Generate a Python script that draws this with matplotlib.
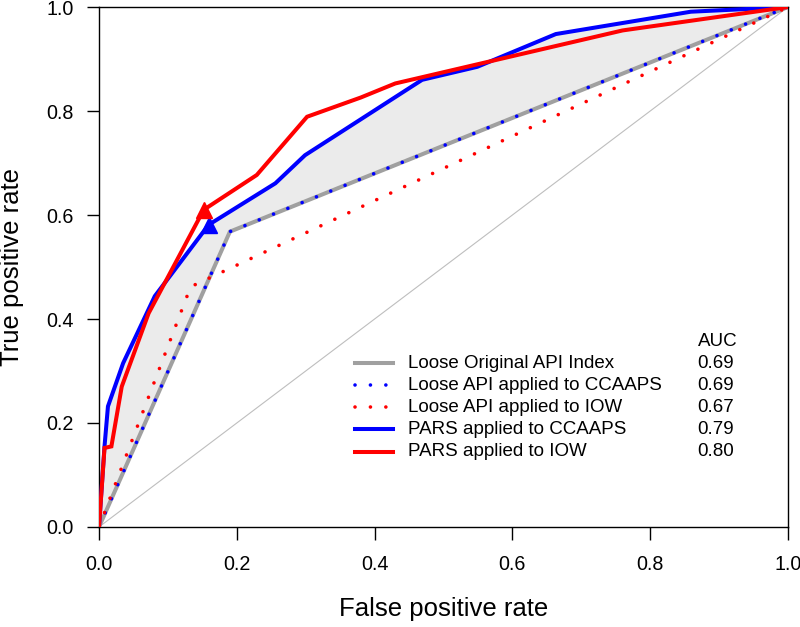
import numpy as np
import matplotlib.pyplot as plt

plt.rcParams['font.family'] = ['Liberation Sans', 'DejaVu Sans']

# ROC curve vertices (false positive rate, true positive rate)
api_fpr = [0.0, 0.19, 1.0]
api_tpr = [0.0, 0.568, 1.0]
ccaaps_api_fpr = [0.0, 0.19, 1.0]
ccaaps_api_tpr = [0.0, 0.568, 1.0]
iow_api_fpr = [0.0, 0.133, 1.0]
iow_api_tpr = [0.0, 0.462, 1.0]
ccaaps_pars_fpr = [0.0, 0.008, 0.013, 0.035, 0.081, 0.159, 0.256, 0.299,
                   0.469, 0.549, 0.663, 0.859, 1.0]
ccaaps_pars_tpr = [0.0, 0.155, 0.232, 0.315, 0.444, 0.581, 0.661, 0.715,
                   0.860, 0.885, 0.948, 0.991, 1.0]
iow_pars_fpr = [0.0, 0.008, 0.018, 0.033, 0.072, 0.152, 0.229, 0.302,
                0.38, 0.43, 0.76, 1.0]
iow_pars_tpr = [0.0, 0.152, 0.155, 0.27, 0.411, 0.61, 0.677, 0.789,
                0.826, 0.853, 0.955, 1.0]

# cutoff points marked with triangles
ccaaps_cut = (0.159, 0.581)
iow_cut = (0.152, 0.610)

labels = ['Loose Original API Index', 'Loose API applied to CCAAPS',
          'Loose API applied to IOW', 'PARS applied to CCAAPS', 'PARS applied to IOW']
aucs = ['0.69', '0.69', '0.67', '0.79', '0.80']
ticks = [0.0, 0.2, 0.4, 0.6, 0.8, 1.0]

dots = (0, (0.01, 4.26))
styles = [dict(color='#A0A0A0', lw=2.9, ls='-'),
          dict(color='#0000FF', lw=2.6, ls=dots, dash_capstyle='round'),
          dict(color='#FF0000', lw=2.6, ls=dots, dash_capstyle='round'),
          dict(color='#0000FF', lw=2.9, ls='-'),
          dict(color='#FF0000', lw=2.9, ls='-')]

fig = plt.figure(figsize=(8, 6.27), dpi=100)
ax = fig.add_axes([0.12375, 0.1595, 0.86125, 0.8293])

# shaded area between the original index and PARS on CCAAPS
grid = np.union1d(api_fpr, ccaaps_pars_fpr)
lower = np.interp(grid, api_fpr, api_tpr)
upper = np.interp(grid, ccaaps_pars_fpr, ccaaps_pars_tpr)
ax.fill_between(grid, lower, upper, color='#EBEBEB', lw=0, zorder=1)

ax.plot([0, 1], [0, 1], color='#BEBEBE', lw=0.8, zorder=2)

curves = [(api_fpr, api_tpr), (ccaaps_api_fpr, ccaaps_api_tpr),
          (iow_api_fpr, iow_api_tpr), (ccaaps_pars_fpr, ccaaps_pars_tpr),
          (iow_pars_fpr, iow_pars_tpr)]
for (x, y), st in zip(curves, styles):
    ax.plot(x, y, zorder=3, solid_joinstyle='miter', **st)

ax.plot(*ccaaps_cut, marker='^', ms=11, color='#0000FF', zorder=4)
ax.plot(*iow_cut, marker='^', ms=11, color='#FF0000', zorder=4)

# legend drawn R-style with an AUC column
row_top, row_step = 0.315, 0.0425
ax.text(0.869, row_top + row_step, 'AUC', transform=ax.transAxes,
        fontsize=13.5, va='center', ha='left')
for i, (lab, auc, st) in enumerate(zip(labels, aucs, styles)):
    yy = row_top - i * row_step
    ax.plot([0.372, 0.426], [yy, yy], transform=ax.transAxes, **st)
    ax.text(0.448, yy, lab, transform=ax.transAxes, fontsize=13.5,
            va='center', ha='left')
    ax.text(0.869, yy, auc, transform=ax.transAxes, fontsize=13.5,
            va='center', ha='left')

ax.set_xlim(0, 1)
ax.set_ylim(0, 1)
ax.set_xticks(ticks)
ax.set_yticks(ticks)
ax.set_xticklabels([f'{t:.1f}' for t in ticks])
ax.set_yticklabels([f'{t:.1f}' for t in ticks])
ax.tick_params(direction='out', length=9, width=1, labelsize=14.2, pad=9)
ax.tick_params(axis='x', pad=11)
for sp in ax.spines.values():
    sp.set_linewidth(1)

ax.set_xlabel('False positive rate', fontsize=18.5)
ax.set_ylabel('True positive rate', fontsize=18.5)
ax.xaxis.set_label_coords(0.5, -0.1346)
ax.yaxis.set_label_coords(-0.109, 0.5)

fig.savefig('out.png', dpi=100)
